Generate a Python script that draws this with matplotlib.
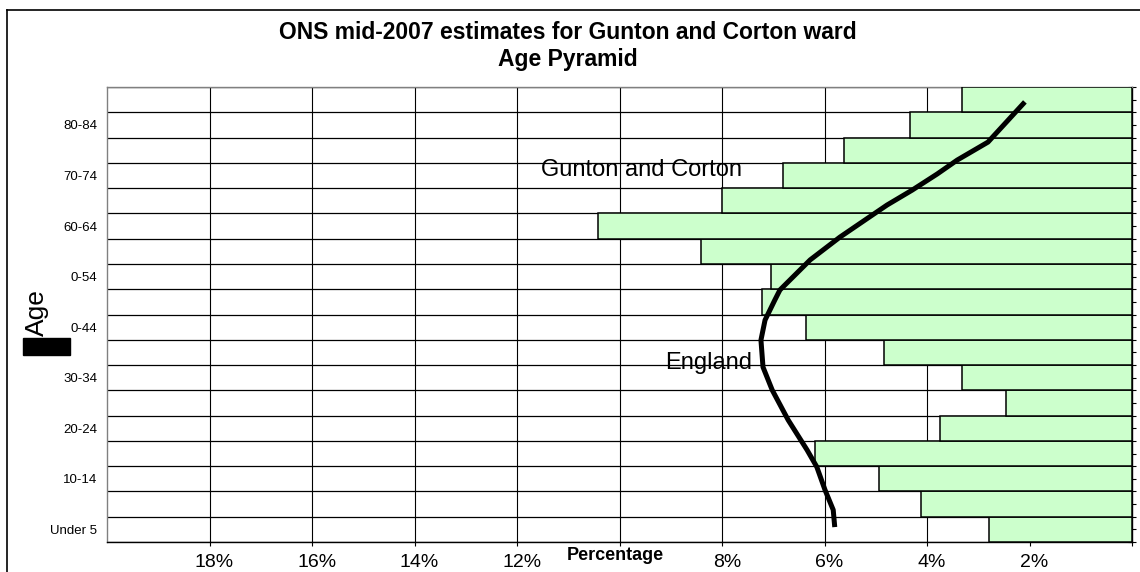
"""
ONS mid-2007 age pyramid - Gunton and Corton ward vs England
"""
import matplotlib
matplotlib.use("Agg")
import matplotlib.pyplot as plt
import matplotlib.transforms as mtransforms
from matplotlib.lines import Line2D
from matplotlib.patches import Rectangle

plt.rcParams["font.family"] = ["Liberation Sans", "DejaVu Sans"]

# age groups, bottom (youngest) to top (oldest)
age_groups = ["Under 5", "5-9", "10-14", "15-19", "20-24", "25-29", "30-34", "35-39",
              "40-44", "45-49", "50-54", "55-59", "60-64", "65-69", "70-74", "75-79",
              "80-84", "85+"]
# labels as they show on the chart (every other group, some clipped)
age_labels = ["Under 5", "", "10-14", "", "20-24", "", "30-34", "", "0-44", "",
              "0-54", "", "60-64", "", "70-74", "", "80-84", ""]

# Gunton and Corton share of population, %
gunton_pct = [2.79, 4.12, 4.94, 6.19, 3.75, 2.46, 3.32, 4.84, 6.36, 7.22,
              7.04, 8.41, 10.42, 8.00, 6.81, 5.62, 4.33, 3.32]

# England line (percent, position on age axis)
england_pct = [5.80, 5.83, 5.99, 6.15, 6.34, 6.71, 7.02, 7.20, 7.24, 7.16,
               6.97, 6.87, 6.28, 5.70, 5.15, 4.78, 4.29, 3.80, 3.41, 2.81, 2.09]
england_pos = [0.09, 0.77, 1.56, 2.47, 3.14, 4.33, 5.51, 6.42, 7.49, 8.28,
               9.07, 9.47, 10.66, 11.56, 12.32, 12.83, 13.42, 14.06, 14.61, 15.32, 16.91]

x_ticks = [0, 2, 4, 6, 8, 10, 12, 14, 16, 18]
x_labels = ["", "2%", "4%", "6%", "8%", "", "12%", "14%", "16%", "18%"]

W, H = 1140, 572
fig = plt.figure(figsize=(W / 100, H / 100), dpi=100)
ax = fig.add_axes([107 / W, 1 - 542 / H, (1132 - 107) / W, (542 - 87) / H])

ypos = list(range(len(age_groups)))
ax.barh(ypos, gunton_pct, height=1.0, color="#CCFFCC", edgecolor="black",
        linewidth=1.1, zorder=3)
ax.plot(england_pct, england_pos, color="black", linewidth=3.6, zorder=5,
        solid_capstyle="butt", solid_joinstyle="round")

ax.set_xlim(20, 0)
ax.set_ylim(-0.5, len(age_groups) - 0.5)

ax.set_xticks(x_ticks)
ax.set_xticklabels(x_labels, fontsize=14)
ax.set_yticks(ypos)
ax.set_yticklabels(age_labels, fontsize=9.5)
ax.set_yticks([i - 0.5 for i in range(len(age_groups) + 1)], minor=True)

ax.tick_params(axis="x", direction="out", length=3, width=0.8, pad=5.5)
ax.tick_params(axis="y", which="both", left=False, right=True, labelleft=True,
               labelright=False, direction="inout", length=6, width=0.8, pad=4)

# Excel draws the % labels a little right of their ticks
shift = mtransforms.ScaledTranslation(5 / 100, 0, fig.dpi_scale_trans)
for lab in ax.get_xticklabels():
    lab.set_transform(lab.get_transform() + shift)

ax.grid(axis="x", which="major", color="black", linewidth=0.8, zorder=1)
ax.grid(axis="y", which="minor", color="black", linewidth=0.9, zorder=1)
ax.set_axisbelow(True)

for side in ["top", "left"]:
    ax.spines[side].set_color("#808080")
for side in ["bottom", "right"]:
    ax.spines[side].set_color("black")
for sp in ax.spines.values():
    sp.set_linewidth(1.0)

ax.text(11.53, 13.98, "Gunton and Corton", fontsize=17, ha="left", va="baseline", zorder=6)
ax.text(9.11, 6.34, "England", fontsize=17, ha="left", va="baseline", zorder=6)

# titles and axis captions
fig.text(568 / W, 1 - 39 / H, "ONS mid-2007 estimates for Gunton and Corton ward",
         fontsize=16.5, fontweight="bold", ha="center", va="baseline")
fig.text(568 / W, 1 - 66 / H, "Age Pyramid",
         fontsize=16.5, fontweight="bold", ha="center", va="baseline")
fig.text(615 / W, 1 - 555 / H, "Percentage", fontsize=13, fontweight="bold",
         ha="center", va="center")
fig.text(37 / W, 1 - 313 / H, "Age", fontsize=19, rotation=90, ha="center", va="center")
fig.add_artist(Rectangle((23 / W, 1 - 355 / H), 47 / W, 17 / H,
                         transform=fig.transFigure, color="black"))

# outer chart frame (runs off the right and bottom edges)
fig.add_artist(Line2D([7 / W, 1.0], [1 - 10 / H, 1 - 10 / H], color="black", linewidth=1.2))
fig.add_artist(Line2D([7 / W, 7 / W], [0.0, 1 - 10 / H], color="black", linewidth=1.2))

fig.savefig("out.png", dpi=100)
plt.close(fig)
